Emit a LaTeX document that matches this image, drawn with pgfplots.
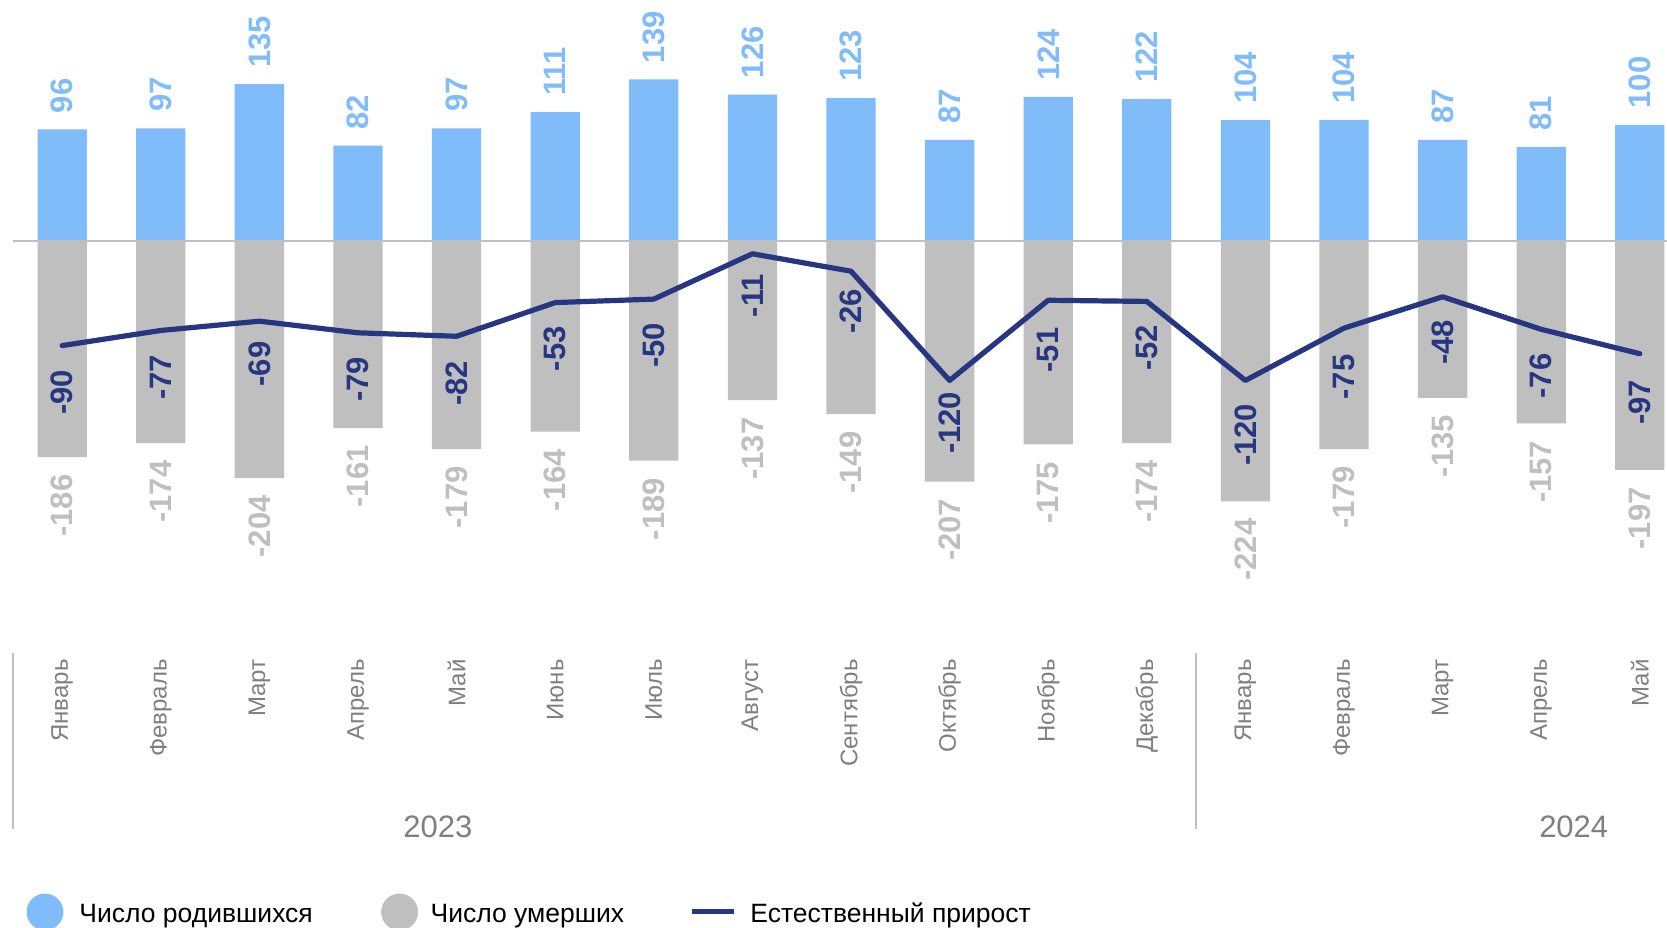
\documentclass[border=0pt]{standalone}
\usepackage{fontspec}
\setmainfont{Liberation Sans}
\usepackage{pgfplots}
\usepackage{pgfplotstable}
\pgfplotsset{compat=1.18}
\definecolor{cBirth}{RGB}{128,187,250}
\definecolor{cDeath}{RGB}{191,191,191}
\definecolor{cNat}{RGB}{39,54,128}
\definecolor{cMonth}{RGB}{127,127,127}
\newcommand\lab{\fontsize{15.5bp}{16bp}\selectfont\bfseries}
\pgfplotstableread{
x b d n off
0 96 -186 -90 12
1 97 -174 -77 12
2 135 -204 -69 10
3 82 -161 -79 11.85
4 97 -179 -82 12.25
5 111 -164 -53 11.7
6 139 -189 -50 11.7
7 126 -137 -11 10
8 123 -149 -26 8.75
9 87 -207 -120 5.5
10 124 -175 -51 13.5
11 122 -174 -52 11.7
12 104 -224 -120 11.5
13 104 -179 -75 13
14 87 -135 -48 11.5
15 81 -157 -76 12
16 100 -197 -97 13
}\data
\pgfplotstableread{
x y m
0 -359.7 Январь
1 -359.7 Февраль
2 -359.7 Март
3 -359.7 Апрель
4 -359.7 Май
5 -359.7 Июнь
6 -359.7 Июль
7 -359.7 Август
8 -359.7 Сентябрь
9 -359.7 Октябрь
10 -359.7 Ноябрь
11 -359.7 Декабрь
12 -359.7 Январь
13 -359.7 Февраль
14 -359.7 Март
15 -359.7 Апрель
16 -359.7 Май
}\months
\begin{document}
\begin{tikzpicture}
\begin{axis}[
  width=833.5bp, height=464bp, scale only axis,
  xmin=-0.6308, xmax=16.276, ymin=-591.2, ymax=207.4,
  axis lines=none, xtick=\empty, ytick=\empty,
  clip=false,
  /pgf/number format/assume math mode=true,
  legend style={at={(0.01596,0.01724)}, anchor=west, draw=none, fill=none,
    inner sep=0pt, outer sep=0pt, column sep=0pt, row sep=0pt,
    legend columns=3,
    font=\fontsize{13.25bp}{15bp}\selectfont,
    cells={anchor=base west, inner sep=0pt, outer sep=0pt}},
]
% bars
\addplot[ybar, bar width=0.5, bar shift=0pt, fill=cBirth, draw=none, forget plot] table[x=x,y=b]{\data};
\addplot[ybar, bar width=0.5, bar shift=0pt, fill=cDeath, draw=none, forget plot] table[x=x,y=d]{\data};
% zero line and separators
\addplot[cDeath, line width=1bp, forget plot] coordinates {(-0.5,0) (16.276,0)};
\addplot[cDeath, line width=1bp, forget plot] coordinates {(-0.5,-354.6) (-0.5,-506)};
\addplot[cDeath, line width=1bp, forget plot] coordinates {(11.5,-354.6) (11.5,-506)};
% natural increase line
\addplot[cNat, line width=2.6bp, line join=round, line cap=round, forget plot] table[x=x,y=n]{\data};
% labels
\addplot[draw=none, forget plot, nodes near coords,
  nodes near coords style={rotate=90, anchor=west, inner xsep=8bp, inner ysep=0pt, font=\lab, text=cBirth}]
  table[x=x,y=b]{\data};
\addplot[draw=none, forget plot, nodes near coords,
  nodes near coords style={rotate=90, anchor=east, inner xsep=8.5bp, inner ysep=0pt, font=\lab, text=cDeath}]
  table[x=x,y=d]{\data};
\addplot[draw=none, forget plot, visualization depends on={\thisrow{off}\as\myoff}, nodes near coords,
  nodes near coords style={rotate=90, anchor=east, inner xsep=\myoff bp, inner ysep=0pt, font=\lab, text=cNat}]
  table[x=x,y=n]{\data};
% month labels
\addplot[draw=none, forget plot, point meta=explicit symbolic, nodes near coords,
  nodes near coords style={rotate=90, anchor=east, inner sep=0pt, font=\fontsize{12bp}{14bp}\selectfont, text=cMonth}]
  table[x=x,y=y,meta=m]{\months};
% year labels
\addplot[draw=none, forget plot, point meta=explicit symbolic, nodes near coords,
  nodes near coords style={anchor=center, inner sep=0pt, font=\fontsize{15.5bp}{17bp}\selectfont, text=cMonth}]
  table[x=x,y=y,meta=m]{
x y m
3.81 -504.3 2023
15.33 -504.3 2024
};
% legend
\addlegendimage{legend image code/.code={\fill[cBirth] (9bp,5.4bp) circle[radius=9bp];}}
\addlegendimage{legend image code/.code={\fill[cDeath] (9bp,5.4bp) circle[radius=9bp];}}
\addlegendimage{legend image code/.code={\draw[cNat, line width=2.6bp] (0bp,5.5bp) -- (21bp,5.5bp);}}
\legend{{\hspace*{6bp}\makebox[148.9bp][l]{Число родившихся}},{\hspace*{4.35bp}\makebox[127.5bp][l]{Число умерших}},{\hspace*{4.8bp}Естественный прирост}}
\end{axis}
\pgfresetboundingbox
\useasboundingbox (current axis.south west) rectangle (current axis.north east);
\end{tikzpicture}
\end{document}
